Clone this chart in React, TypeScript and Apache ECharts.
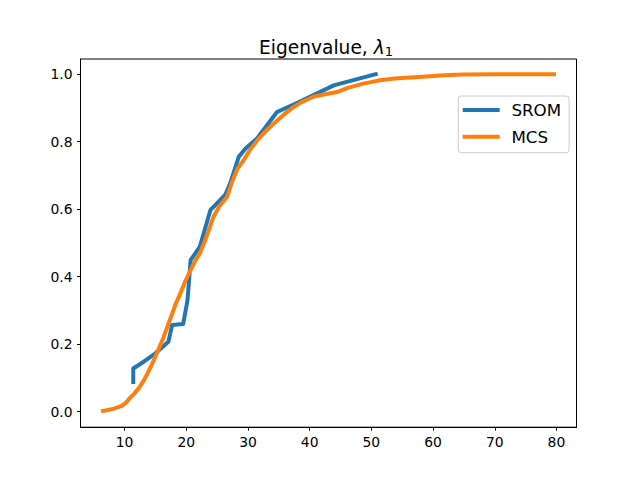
import React, { useEffect, useRef } from "react";
import * as echarts from "echarts";

// Empirical CDF samples of the first eigenvalue
const sromX = [11.4, 11.4, 13.1, 15.0, 17.1, 17.7, 19.5, 20.2, 20.7, 22.2, 23.9, 26.3, 27.1, 28.5, 29.6, 31.5, 34.7, 38.0, 43.9, 50.7];
const sromY = [0.088, 0.128, 0.148, 0.173, 0.207, 0.257, 0.26, 0.331, 0.449, 0.489, 0.597, 0.642, 0.676, 0.755, 0.78, 0.81, 0.888, 0.915, 0.967, 1.0];

const mcsX = [6.5, 7.3, 8.3, 9.6, 10.3, 10.8, 11.5, 12.3, 13.1, 13.9, 14.7, 15.5, 16.3, 17.0, 17.7, 18.3, 19.0, 19.8, 20.65, 21.4, 22.3, 23.3, 24.4, 25.4, 26.6, 27.4, 28.3, 29.3, 30.3, 31.5, 32.8, 34.2, 35.8, 37.4, 38.8, 40.6, 42.3, 44.4, 46.3, 48.7, 50.3, 51.4, 53.8, 56.3, 59.5, 61.8, 64.9, 69.8, 79.6];
const mcsY = [0.002, 0.005, 0.009, 0.018, 0.028, 0.04, 0.052, 0.07, 0.092, 0.12, 0.151, 0.185, 0.22, 0.255, 0.29, 0.32, 0.349, 0.385, 0.418, 0.445, 0.473, 0.52, 0.577, 0.61, 0.636, 0.68, 0.72, 0.745, 0.775, 0.804, 0.83, 0.854, 0.88, 0.903, 0.918, 0.933, 0.94, 0.947, 0.96, 0.972, 0.978, 0.982, 0.987, 0.99, 0.994, 0.997, 0.999, 1.0, 1.0];

const xTicks = [10, 20, 30, 40, 50, 60, 70, 80];
const yTicks = [0, 0.2, 0.4, 0.6, 0.8, 1.0];

const FONT = "DejaVu Sans";

function pairs(xs: number[], ys: number[]) {
  return xs.map((x, i) => [x, ys[i]]);
}

export default function App() {
  const ref = useRef<HTMLDivElement>(null);

  useEffect(() => {
    if (!ref.current) return;
    const chart = echarts.init(ref.current, null, { renderer: "svg" });
    chart.setOption({
      animation: false,
      backgroundColor: "#ffffff",
      textStyle: { fontFamily: FONT },
      title: {
        text: "Eigenvalue, {l|λ}{s|1}",
        left: 321,
        top: 31,
        textAlign: "center",
        textStyle: {
          fontFamily: FONT,
          fontSize: 18.6,
          fontWeight: "normal",
          color: "#000",
          rich: {
            l: { fontFamily: FONT, fontSize: 18.6, fontStyle: "italic", color: "#000" },
            s: { fontFamily: FONT, fontSize: 13, color: "#000", padding: [9, 0, 0, 0] },
          },
        },
      },
      grid: {
        left: 80.5,
        right: 63.5,
        top: 59,
        bottom: 52.8,
        show: true,
        borderColor: "#000",
        borderWidth: 1,
        backgroundColor: "transparent",
      },
      xAxis: {
        type: "value",
        min: 2.85,
        max: 83.25,
        splitLine: { show: false },
        axisLine: { show: true, onZero: false, lineStyle: { color: "#000", width: 1 } },
        axisTick: {
          show: true,
          length: 3.5,
          inside: false,
          lineStyle: { color: "#000", width: 1 },
          customValues: xTicks,
        },
        axisLabel: {
          customValues: xTicks,
          margin: 8,
          fontFamily: FONT,
          fontSize: 13.9,
          color: "#000",
          formatter: (v: number) => String(Math.round(v)),
        },
      },
      yAxis: {
        type: "value",
        min: -0.046,
        max: 1.045,
        splitLine: { show: false },
        axisLine: { show: true, onZero: false, lineStyle: { color: "#000", width: 1 } },
        axisTick: {
          show: true,
          length: 3.5,
          inside: false,
          lineStyle: { color: "#000", width: 1 },
          customValues: yTicks,
        },
        axisLabel: {
          customValues: yTicks,
          margin: 8,
          fontFamily: FONT,
          fontSize: 13.9,
          color: "#000",
          formatter: (v: number) => v.toFixed(1),
        },
      },
      legend: {
        orient: "vertical",
        left: 458.3,
        top: 96,
        padding: [5.5, 8, 7.5, 4.4],
        itemGap: 9.7,
        itemWidth: 37,
        itemHeight: 4,
        icon: "rect",
        backgroundColor: "rgba(255,255,255,0.8)",
        borderColor: "#cccccc",
        borderWidth: 1,
        borderRadius: 3,
        textStyle: {
          fontFamily: FONT,
          fontSize: 16.7,
          lineHeight: 17,
          color: "#000",
          padding: [0, 0, 0, 6.7],
        },
        data: ["SROM", "MCS"],
      },
      series: [
        {
          name: "SROM",
          type: "line",
          data: pairs(sromX, sromY),
          showSymbol: false,
          symbol: "none",
          color: "#1f77b4",
          lineStyle: { width: 4, color: "#1f77b4", cap: "square", join: "round" },
          z: 2,
        },
        {
          name: "MCS",
          type: "line",
          data: pairs(mcsX, mcsY),
          showSymbol: false,
          symbol: "none",
          color: "#ff7f0e",
          lineStyle: { width: 4, color: "#ff7f0e", cap: "square", join: "round" },
          z: 3,
        },
      ],
    });
    return () => chart.dispose();
  }, []);

  return (
    <div
      ref={ref}
      style={{ position: "absolute", left: 0, top: 0, width: 640, height: 480 }}
    />
  );
}
